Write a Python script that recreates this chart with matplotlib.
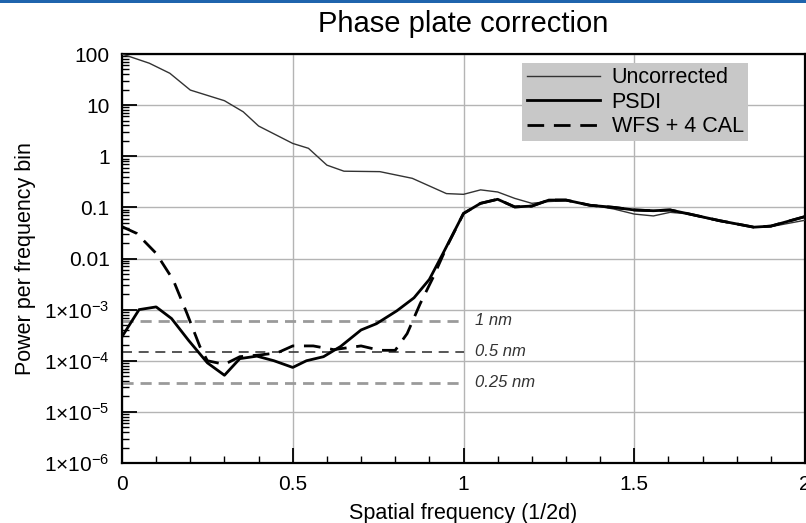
# Phase plate correction: power spectrum before/after correction, log y.
import matplotlib
matplotlib.use("Agg")
import matplotlib.pyplot as plt
from matplotlib.ticker import FixedLocator, LogLocator, NullFormatter

plt.rcParams["font.family"] = ["Liberation Sans", "DejaVu Sans"]
plt.rcParams["mathtext.fontset"] = "custom"
plt.rcParams["mathtext.rm"] = "Liberation Sans"
plt.rcParams["mathtext.default"] = "regular"

unc_x = [0, 0.08, 0.14, 0.2, 0.3, 0.355, 0.4, 0.5, 0.546, 0.6, 0.65, 0.755, 0.85,
         0.95, 1.0, 1.05, 1.1, 1.15, 1.2, 1.25, 1.3, 1.37, 1.44, 1.5, 1.556, 1.605,
         1.654, 1.75, 1.85, 1.9, 2.0]
unc_y = [100, 66, 42, 19.7, 12.2, 7.4, 3.9, 1.78, 1.43, 0.67, 0.51, 0.50, 0.37,
         0.186, 0.18, 0.22, 0.20, 0.15, 0.12, 0.13, 0.135, 0.112, 0.093, 0.074, 0.068,
         0.08, 0.075, 0.053, 0.041, 0.042, 0.056]

psdi_x = [0, 0.05, 0.1, 0.145, 0.195, 0.25, 0.3, 0.345, 0.395, 0.445, 0.5, 0.54,
          0.59, 0.64, 0.7, 0.745, 0.805, 0.855, 0.9, 0.94, 1.0, 1.05, 1.1, 1.15, 1.2,
          1.25, 1.3, 1.37, 1.44, 1.5, 1.556, 1.605, 1.654, 1.75, 1.85, 1.9, 2.0]
psdi_y = [2.95e-4, 1.0e-3, 1.13e-3, 6.7e-4, 2.5e-4, 9.1e-5, 5.2e-5, 1.1e-4, 1.23e-4,
          1.0e-4, 7.4e-5, 1.0e-4, 1.2e-4, 1.9e-4, 4.0e-4, 5.3e-4, 9.5e-4, 1.7e-3,
          3.9e-3, 1.26e-2, 0.076, 0.12, 0.144, 0.102, 0.106, 0.139, 0.139, 0.11, 0.1,
          0.089, 0.086, 0.089, 0.076, 0.055, 0.041, 0.043, 0.066]

wfs_x = [0, 0.043, 0.1, 0.15, 0.19, 0.228, 0.25, 0.3, 0.345, 0.405, 0.455, 0.5, 0.56,
         0.62, 0.7, 0.755, 0.8, 0.835, 0.873, 0.912, 0.951, 1.0, 1.05, 1.1, 1.15, 1.2,
         1.25, 1.3, 1.37, 1.44, 1.5, 1.556, 1.605, 1.654, 1.75, 1.85, 1.9, 2.0]
wfs_y = [0.042, 0.031, 0.0126, 3.8e-3, 8.5e-4, 1.9e-4, 1.0e-4, 8.5e-5, 1.2e-4, 1.3e-4,
         1.43e-4, 1.95e-4, 1.95e-4, 1.65e-4, 1.95e-4, 1.6e-4, 1.6e-4, 3.4e-4, 1.3e-3,
         4.4e-3, 0.017, 0.076, 0.12, 0.144, 0.102, 0.106, 0.139, 0.139, 0.11, 0.1,
         0.089, 0.086, 0.089, 0.076, 0.055, 0.041, 0.043, 0.066]

ref_levels = [6.0e-4, 1.5e-4, 3.75e-5]
ref_labels = ["1 nm", "0.5 nm", "0.25 nm"]
ref_end = 1.0

yticks = [100, 10, 1, 0.1, 0.01, 1e-3, 1e-4, 1e-5, 1e-6]
ytick_labels = ["100", "10", "1", "0.1", "0.01",
                "1×10$^{-3}$", "1×10$^{-4}$", "1×10$^{-5}$", "1×10$^{-6}$"]
xticks = [0, 0.5, 1, 1.5, 2]
xtick_labels = ["0", "0.5", "1", "1.5", "2"]

fig = plt.figure(figsize=(8.06, 5.23), dpi=100)
ax = fig.add_axes([122 / 806, 60 / 523, 683 / 806, 409 / 523])

# blue rule along the top of the page
fig.add_artist(plt.Rectangle((0, 1 - 3 / 523), 1, 3 / 523, transform=fig.transFigure,
                             color="#1f64ad", lw=0))

ax.set_yscale("log")
ax.set_xlim(0, 2)
ax.set_ylim(1e-6, 100)

ref_styles = [dict(color="#9a9a9a", lw=2.0, dashes=(4, 2.5)),
              dict(color="#3a3a3a", lw=1.2, dashes=(6, 4)),
              dict(color="#9a9a9a", lw=2.0, dashes=(4, 2.5))]
for lvl, lab, st in zip(ref_levels, ref_labels, ref_styles):
    ax.plot([0, ref_end], [lvl, lvl], **st, zorder=2)
    ax.text(ref_end + 0.034, lvl, lab, style="italic", fontsize=12, color="#333333",
            va="center", ha="left")

ax.plot(unc_x, unc_y, color="#333333", lw=1.0, label="Uncorrected", zorder=3)
ax.plot(psdi_x, psdi_y, color="black", lw=2.0, label="PSDI", zorder=4)
ax.plot(wfs_x, wfs_y, color="black", lw=2.0, dashes=(6, 3.5), label="WFS + 4 CAL", zorder=4)

ax.yaxis.set_major_locator(FixedLocator(yticks))
ax.set_yticklabels(ytick_labels)
ax.yaxis.set_minor_locator(LogLocator(base=10, subs=range(2, 10), numticks=20))
ax.yaxis.set_minor_formatter(NullFormatter())
ax.set_xticks(xticks)
ax.set_xticklabels(xtick_labels)
ax.set_xticks([i / 10 for i in range(21)], minor=True)

ax.tick_params(which="major", direction="in", length=11, width=1.3, labelsize=15, pad=9)
ax.tick_params(which="minor", direction="in", length=5, width=1.0)
ax.tick_params(axis="y", which="both", right=False)
ax.tick_params(axis="x", which="both", top=False)
ax.grid(True, which="major", color="#b4b4b4", lw=1.0)
for sp in ax.spines.values():
    sp.set_linewidth(1.6)

ax.set_title("Phase plate correction", fontsize=21, pad=16)
ax.set_xlabel("Spatial frequency (1/2d)", fontsize=15.5, labelpad=6)
ax.set_ylabel("Power per frequency bin", fontsize=15.5)
ax.yaxis.set_label_coords(-0.126, 0.5)

leg = ax.legend(loc="upper left", bbox_to_anchor=(0.586, 0.978), fontsize=15.5,
                frameon=True, fancybox=False, facecolor="#c8c8c8", edgecolor="none",
                framealpha=1, borderpad=0.2, labelspacing=0.16, handlelength=3.4,
                handletextpad=0.55, borderaxespad=0)

fig.savefig("out.png", dpi=100)
